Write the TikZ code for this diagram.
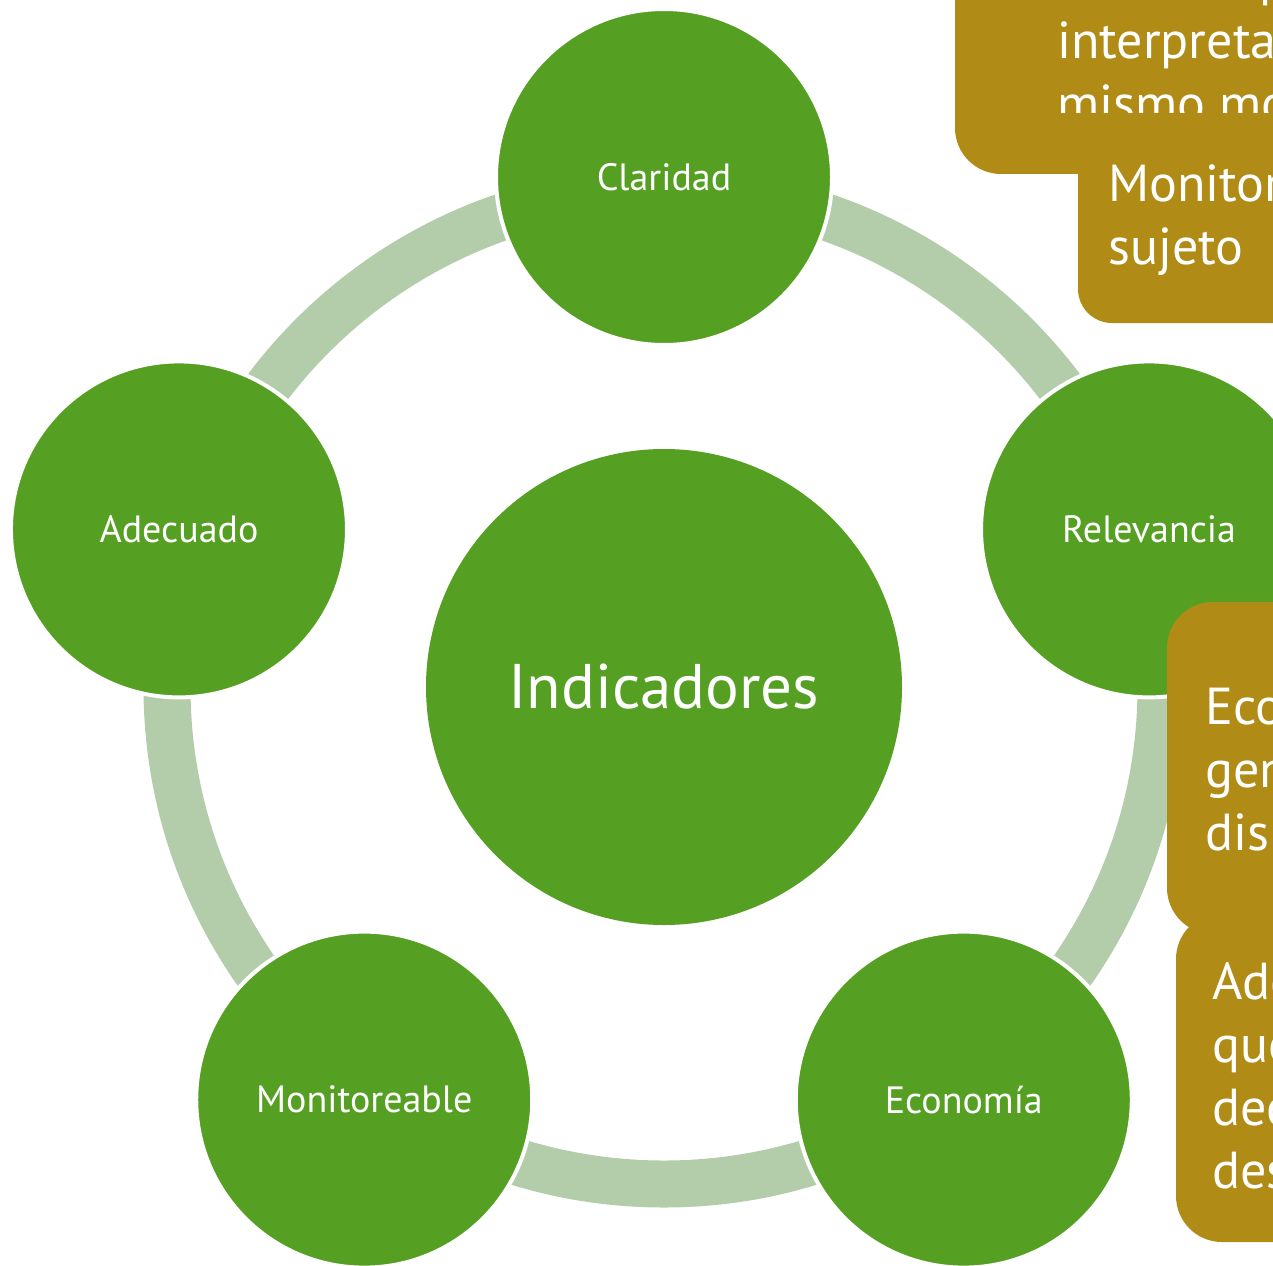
\documentclass[tikz,border=0pt]{standalone}
\usepackage{fontspec}
\setmainfont{PT Sans}
\usetikzlibrary{positioning}

\definecolor{leaf}{RGB}{85,160,35}
\definecolor{ringc}{RGB}{179,205,171}
\definecolor{ochre}{RGB}{176,140,22}

\begin{document}
\begin{tikzpicture}[x=1pt,y=-1pt,
  petal/.style={circle,fill=leaf,draw=white,line width=4pt,minimum size=336pt,
    inner sep=0pt,text=white,font=\fontsize{38}{46}\selectfont},
  hub/.style={circle,fill=leaf,minimum size=476pt,inner sep=0pt,text=white,
    font=\fontsize{63}{72}\selectfont},
  card/.style={fill=ochre,rounded corners=46pt},
  cardtxt/.style={anchor=base west,align=left,inner sep=0pt,text=white,
    font=\fontsize{52}{63}\selectfont}]

  \useasboundingbox (0,0) rectangle (1273,1265);
  \clip (0,0) rectangle (1273,1265);

  % centre and ring
  \node[hub] (ind) at (664,687) {Indicadores};
  \draw[ringc,line width=47pt] (ind.center) circle[radius=497pt];

  % the five criteria
  \path (ind.center) ++(90:510pt)  node[petal] (clar) {Claridad};
  \path (ind.center) ++(18:510pt)  node[petal] (relev) {Relevancia};
  \path (ind.center) ++(162:510pt) node[petal] (adec) {Adecuado};
  \path (ind.center) ++(234:510pt) node[petal] (monit) {Monitoreable};
  \path (ind.center) ++(306:510pt) node[petal] (econ) {Economía};

  % text cards on the right (base = last line)
  \fill[card] (955,-80) rectangle (1340,174);
  \begin{scope}
    \clip (955,-80) rectangle (1273,113);
    \node[cardtxt] (ta) at (1057,122) {debe ser preciso\\interpretado\\mismo modo};
  \end{scope}
  \fill[card,rounded corners=34pt] (1078,130) rectangle (1340,323);
  \node[cardtxt] (tb) at (1108,265) {Monitoreable\\sujeto};

  \fill[card] (1167,602) rectangle (1340,934);
  \node[cardtxt] (tc) at (1205,850) {Economía\\genera\\disponible};
  \fill[card] (1176,913) rectangle (1340,1242);
  \node[cardtxt] (td) at (1212,1188) {Adecuado\\que\\decisión\\desempeño};
\end{tikzpicture}
\end{document}
